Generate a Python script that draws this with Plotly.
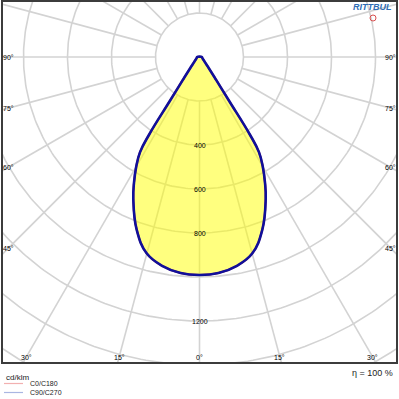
import numpy as np
import plotly.graph_objects as go

# ---- data ----
gamma_deg = [0, 5, 10, 15, 20, 25, 27.5, 30, 32, 33, 34, 36, 40, 45, 50, 60, 70, 80, 90]
c0_c180 = [991, 986, 965, 925, 835, 712, 645, 575, 510, 420, 240, 130, 65, 38, 28, 18, 14, 12, 11]
c90_c270 = [991, 986, 965, 925, 835, 712, 645, 575, 510, 420, 240, 130, 65, 38, 28, 18, 14, 12, 11]
ring_values = [200, 400, 600, 800, 1000, 1200, 1400, 1600, 1800]
ring_labels = [400, 600, 800, 1200]
side_angle_labels = [90, 75, 60, 45]
bottom_angle_labels = [30, 15, 0]
series_names = ["C0/C180", "C90/C270"]
unit_text = "cd/klm"
eta_text = "η = 100 %"
logo_text = "RITTBUL"

# ---- geometry helpers ----
W, H = 399, 399
ML, MR, MT, MB = 2, 2, 1, 36
PW, PH = W - ML - MR, H - MT - MB
SCALE = 0.22  # px per cd/klm
CX_PX, CY_PX = 199.5, 57.0
x_range = [-(CX_PX - ML) / SCALE, (W - MR - CX_PX) / SCALE]
y_range = [-((H - MB) - CY_PX) / SCALE, (CY_PX - MT) / SCALE]
SMOOTH = 1.2


def px2paper(px, py):
    return (px - ML) / PW, ((H - MB) - py) / PH


def curve_xy(values):
    g = np.radians(np.array(gamma_deg, dtype=float))
    v = np.array(values, dtype=float)
    xr = (v * np.sin(g))[::-1]
    yr = (-v * np.cos(g))[::-1]
    xl = (-v * np.sin(g))[1:]
    yl = (-v * np.cos(g))[1:]
    x = np.concatenate([xr, xl, xr[:1]])
    y = np.concatenate([yr, yl, yr[:1]])
    return x, y


fig = go.Figure()

# grid (circles + radial lines)
gx, gy = [], []
t = np.linspace(0, 2 * np.pi, 361)
for r in ring_values:
    gx += list(r * np.cos(t)) + [None]
    gy += list(r * np.sin(t)) + [None]
for a in range(0, 360, 15):
    ar = np.radians(a)
    gx += [ring_values[0] * np.sin(ar), 2200 * np.sin(ar), None]
    gy += [-ring_values[0] * np.cos(ar), -2200 * np.cos(ar), None]
fig.add_trace(go.Scatter(x=gx, y=gy, mode="lines", line=dict(color="#d3d3d3", width=1.6),
                         hoverinfo="skip", showlegend=False))

# fill
fx, fy = curve_xy(c90_c270)
fig.add_trace(go.Scatter(x=fx, y=fy, mode="lines", fill="toself",
                         fillcolor="rgba(255,255,0,0.5)",
                         line=dict(width=0, shape="spline", smoothing=SMOOTH),
                         hoverinfo="skip", showlegend=False))

# curves
rx, ry = curve_xy(c0_c180)
fig.add_trace(go.Scatter(x=rx, y=ry, mode="lines", name=series_names[0],
                         line=dict(color="#e03030", width=2, shape="spline", smoothing=SMOOTH),
                         showlegend=False))
bx, by = curve_xy(c90_c270)
fig.add_trace(go.Scatter(x=bx, y=by, mode="lines", name=series_names[1],
                         line=dict(color="#10109a", width=2.6, shape="spline", smoothing=SMOOTH),
                         showlegend=False))

annotations = []
lab_font = dict(family="Liberation Sans, Arial", size=7, color="#000000")

# radial value labels
for v in ring_labels:
    annotations.append(dict(x=0, y=-v, xref="x", yref="y", text=str(v), showarrow=False,
                            font=lab_font, xanchor="center", yanchor="middle"))

# angle labels along the frame
side_x = (CX_PX - ML - 6.5) / SCALE
bottom_y = -((H - MB) - CY_PX - 6) / SCALE
for a in side_angle_labels:
    ar = np.radians(a)
    yy = -side_x / np.tan(ar) if a != 90 else 0.0
    for s in (-1, 1):
        annotations.append(dict(x=s * side_x, y=yy, xref="x", yref="y", text=f"{a}°",
                                showarrow=False, font=lab_font, xanchor="center", yanchor="middle"))
for a in bottom_angle_labels:
    ar = np.radians(a)
    xx = -bottom_y * np.tan(ar)
    for s in ((-1, 1) if a != 0 else (1,)):
        annotations.append(dict(x=s * xx, y=bottom_y, xref="x", yref="y", text=f"{a}°",
                                showarrow=False, font=lab_font, xanchor="center", yanchor="middle"))

# bottom texts
ux, uy = px2paper(4, 377)
annotations.append(dict(x=ux, y=uy, xref="paper", yref="paper", text=unit_text, showarrow=False,
                        font=dict(family="Liberation Sans, Arial", size=8, color="#222"),
                        xanchor="left", yanchor="middle"))
ex, ey = px2paper(395, 372.5)
annotations.append(dict(x=ex, y=ey, xref="paper", yref="paper", text=eta_text, showarrow=False,
                        font=dict(family="Liberation Sans, Arial", size=9, color="#222"),
                        xanchor="right", yanchor="middle"))

shapes = []
leg_colors = ["#f2b0b0", "#a9b6e2"]
for i, (name, col) in enumerate(zip(series_names, leg_colors)):
    py = 383.5 + 9 * i
    x0, y0 = px2paper(4, py)
    x1, _ = px2paper(23, py)
    shapes.append(dict(type="line", xref="paper", yref="paper", x0=x0, x1=x1, y0=y0, y1=y0,
                       line=dict(color=col, width=1.2)))
    tx, ty = px2paper(28, py)
    annotations.append(dict(x=tx, y=ty, xref="paper", yref="paper", text=name, showarrow=False,
                            font=dict(family="Liberation Sans, Arial", size=7, color="#222"),
                            xanchor="left", yanchor="middle"))

# logo
lx, ly = px2paper(372, 7)
annotations.append(dict(x=lx, y=ly, xref="paper", yref="paper", text=f"<b><i>{logo_text}</i></b>",
                        showarrow=False, font=dict(family="Liberation Sans, Arial", size=9, color="#2f6db5"),
                        xanchor="center", yanchor="middle"))
c0x, c0y = px2paper(370, 21)
c1x, c1y = px2paper(376, 15)
shapes.append(dict(type="circle", xref="paper", yref="paper", x0=c0x, x1=c1x, y0=c0y, y1=c1y,
                   line=dict(color="#d85050", width=1)))

# frame
shapes.append(dict(type="rect", xref="paper", yref="paper", x0=0, x1=1, y0=0, y1=1,
                   line=dict(color="#3c3c3c", width=2)))

fig.update_layout(
    width=W, height=H, margin=dict(l=ML, r=MR, t=MT, b=MB, pad=0),
    paper_bgcolor="white", plot_bgcolor="white",
    xaxis=dict(range=x_range, showgrid=False, zeroline=False, showticklabels=False,
               ticks="", fixedrange=True),
    yaxis=dict(range=y_range, showgrid=False, zeroline=False, showticklabels=False,
               ticks="", fixedrange=True),
    annotations=annotations, shapes=shapes, showlegend=False,
)

fig.write_html("out.html")
